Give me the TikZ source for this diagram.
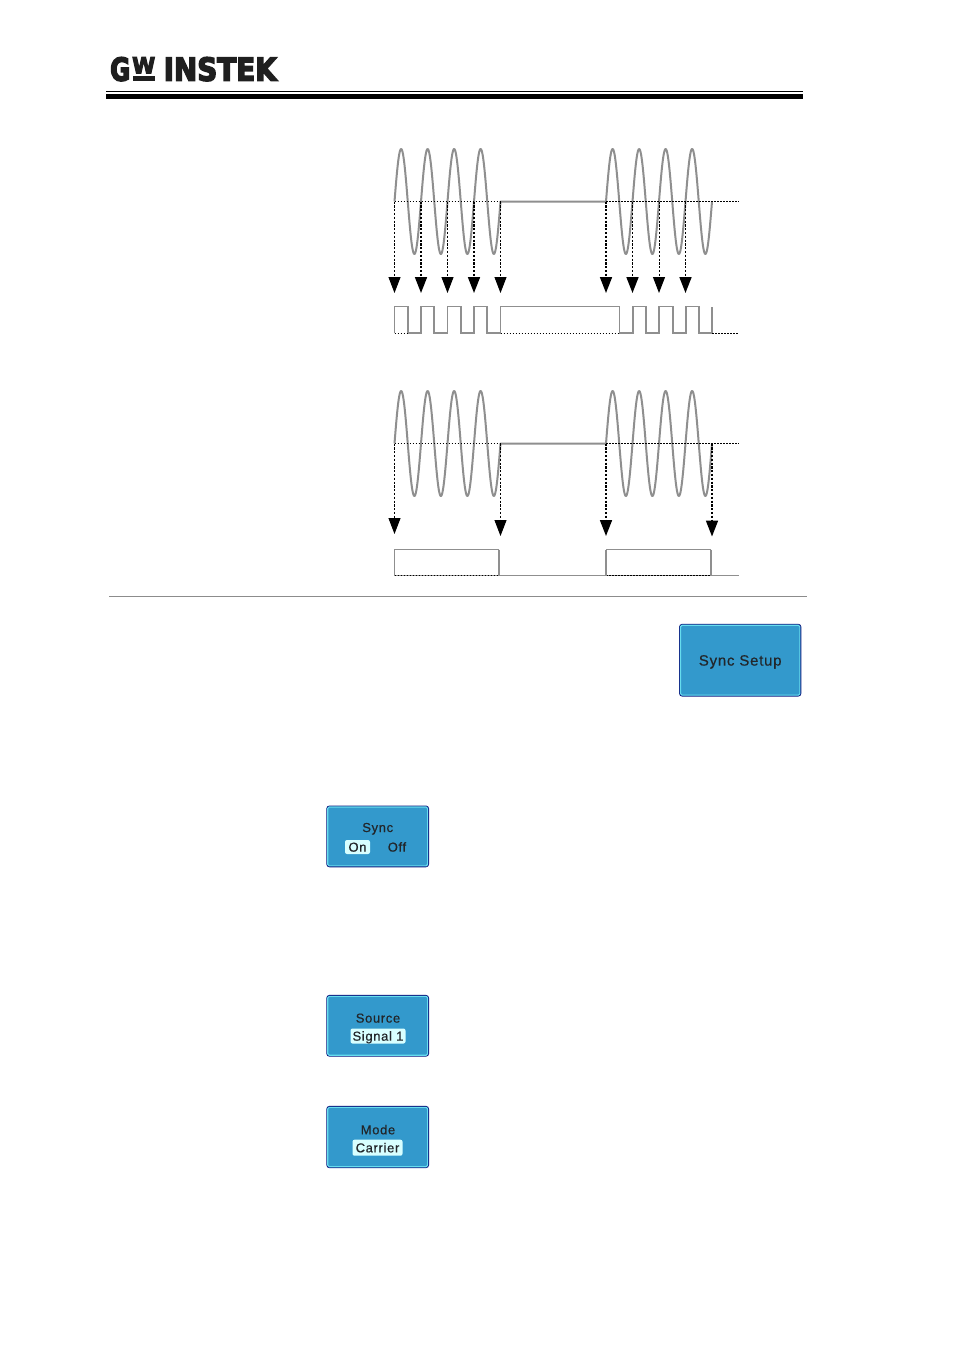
\documentclass[tikz,border=0pt]{standalone}
\usepackage{fontspec}
\setmainfont{Liberation Sans}
\newfontfamily\brandfont{DejaVu Sans Bold}[FakeBold=5]
\newfontfamily\keyfont{Liberation Sans}[LetterSpace=5,FakeBold=0.5]
\usetikzlibrary{arrows.meta,calc}
\definecolor{trace}{HTML}{8F8F8F}
\definecolor{keyface}{HTML}{3399CC}
\definecolor{keyedge}{HTML}{0C1A80}
\definecolor{keyglow}{HTML}{66DDEE}
\definecolor{keylit}{HTML}{D8FFFF}
\definecolor{keyink}{HTML}{22262A}
\tikzset{
  x=1pt,y=-1pt,
  wave/.style={draw=trace,line width=2pt,line join=round},
  pulse/.style={draw=trace,line width=1.7pt,line join=miter},
  zero/.style={draw=black,line width=0.9pt,dash pattern=on 1.5pt off 1.5pt},
  drop/.style={draw=black,line width=1pt,dash pattern=on 2.2pt off 1.6pt,-{Triangle[length=16pt,width=12pt]}},
  dropbold/.style={drop,line width=1.7pt},
  softkey/.style={draw=keyedge,line width=1.2pt,fill=keyface,rounded corners=2.5pt,inner sep=0pt,
    text=keyink},
  keylabel/.style={anchor=base,inner sep=0pt,text=keyink,font=\keyfont\fontsize{13}{15}\selectfont},
  keylit/.style={fill=keylit,rounded corners=2pt,inner sep=0pt,text=keyink,text height=9.3pt,text depth=0pt,
    font=\keyfont\fontsize{13}{15}\selectfont},
  brand/.style={inner sep=0pt,anchor=north west,text=black!88},
  keyrim/.style={draw=keyglow,line width=1.1pt,rounded corners=1.5pt},
}
% Draws the light inner rim of a soft key
\newcommand{\keyrim}[1]{\draw[keyrim] ($(#1.north west)+(1.4,1.4)$) rectangle ($(#1.south east)+(-1.4,-1.4)$);}
\begin{document}
\begin{tikzpicture}
\useasboundingbox (0,0) rectangle (954,1349);
\fill[white] (0,0) rectangle (954,1349);

% Brand mark and header rules
\node[brand] (logoG) at (110,57) {\resizebox{20pt}{23.5pt}{\brandfont G}};
\node[brand] (logoW) at (132,57) {\resizebox{23pt}{16pt}{\brandfont W}};
\fill[black!88] (133,75.5) rectangle (155,80.5);
\node[brand] (logoI) at (163.5,57) {\resizebox{113pt}{23.5pt}{\brandfont INSTEK}};
\fill[black] (106,91.3) rectangle (803,92.3);
\fill[black] (106,94) rectangle (803,99.3);
\draw[black!45,line width=0.8pt] (109,596.5) -- (807,596.5);

% Upper trace: zero level, burst, idle, burst
\draw[wave] plot[domain=0:106,samples=200] ({394.5+\x},{201.5-52.5*sin(\x/26.5*360)})
  -- (606,201.5)
  plot[domain=0:106,samples=200] ({606+\x},{201.5-52.5*sin(\x/26.5*360)});
\draw[zero] (394.5,201.5) -- (500,201.5) (606,201.5) -- (739,201.5);

% Upper sync output
\draw[pulse] (394.5,333) -- (394.5,306.5) -- (408,306.5) -- (408,333) -- (421,333) -- (421,306.5)
  -- (434.3,306.5) -- (434.3,333) -- (447.5,333) -- (447.5,306.5) -- (461,306.5) -- (461,333)
  -- (474,333) -- (474,306.5) -- (487,306.5) -- (487,333) -- (500.5,333) -- (500.5,306.5)
  -- (619.5,306.5) -- (619.5,333) -- (632.7,333) -- (632.7,306.5) -- (646,306.5) -- (646,333)
  -- (659.3,333) -- (659.3,306.5) -- (672.7,306.5) -- (672.7,333) -- (686,333) -- (686,306.5)
  -- (699,306.5) -- (699,333) -- (712.3,333) -- (712.3,306.5);
\draw[zero] (394.5,333.2) -- (408,333.2) (500.5,333.2) -- (619.5,333.2) (712.3,333.2) -- (739,333.2);

% Upper projection arrows
\foreach \n/\px/\kind in {1/394.5/drop,2/421/dropbold,3/447.5/drop,4/474/dropbold,5/500.5/drop,
                          6/606/dropbold,7/632.5/dropbold,8/659/drop,9/685.5/dropbold}{
  \coordinate (up\n) at (\px,201.5);
  \coordinate (ua\n) at (\px,293);
  \draw[\kind] (up\n) -- (ua\n);
}

% Lower trace
\draw[wave] plot[domain=0:106,samples=200] ({394.5+\x},{443.5-52.5*sin(\x/26.5*360)})
  -- (606,443.5)
  plot[domain=0:106,samples=200] ({606+\x},{443.5-52.5*sin(\x/26.5*360)});
\draw[zero] (394.5,443.5) -- (500,443.5) (606,443.5) -- (739,443.5);

% Lower sync output
\draw[trace,line width=1pt] (394.5,575.5) -- (739,575.5);
\draw[zero] (394.5,575.5) -- (499,575.5);
\draw[zero] (606,575.5) -- (711,575.5);
\draw[trace,line width=1pt] (394.5,575.5) -- (394.5,549.5) -- (499,549.5);
\draw[trace,line width=1.7pt] (499,549.5) -- (499,575.5);
\draw[trace,line width=1.7pt] (606,575.5) -- (606,549.5);
\draw[trace,line width=1pt] (606,549.5) -- (711,549.5);
\draw[trace,line width=1.7pt] (711,549.5) -- (711,575.5);

% Lower projection arrows
\foreach \n/\px/\tip/\kind in {1/394.5/534/drop,2/500.5/536/drop,3/606/536/dropbold,4/712/536.5/dropbold}{
  \coordinate (lp\n) at (\px,443.5);
  \coordinate (la\n) at (\px,\tip);
  \draw[\kind] (lp\n) -- (la\n);
}

% Soft keys
\node[softkey,minimum width=121pt,minimum height=71.5pt] (setup) at (740.2,660.2) {};
\keyrim{setup}
\node[anchor=base,inner sep=0pt,text=keyink,font=\keyfont\fontsize{15}{17}\selectfont] (setuptxt) at (740.2,665.6) {Sync Setup};

\node[softkey,minimum width=101.5pt,minimum height=60.5pt] (sync) at (377.7,836.4) {};
\keyrim{sync}
\node[keylabel] (synctxt) at (377.7,832) {Sync};
\node[keylit,minimum width=25pt,minimum height=14pt] (syncon) at (357.5,847) {On};
\node[keylabel] (syncoff) at (397,851.6) {Off};

\node[softkey,minimum width=101.5pt,minimum height=60.5pt] (source) at (377.7,1025.8) {};
\keyrim{source}
\node[keylabel] (sourcetxt) at (378,1022.6) {Source};
\node[keylit,minimum width=55pt,minimum height=15pt] (sourceval) at (378,1036) {Signal 1};

\node[softkey,minimum width=101.5pt,minimum height=61pt] (mode) at (377.7,1137) {};
\keyrim{mode}
\node[keylabel] (modetxt) at (378,1134.3) {Mode};
\node[keylit,minimum width=50pt,minimum height=16pt] (modeval) at (377.5,1147.7) {Carrier};
\end{tikzpicture}
\end{document}
